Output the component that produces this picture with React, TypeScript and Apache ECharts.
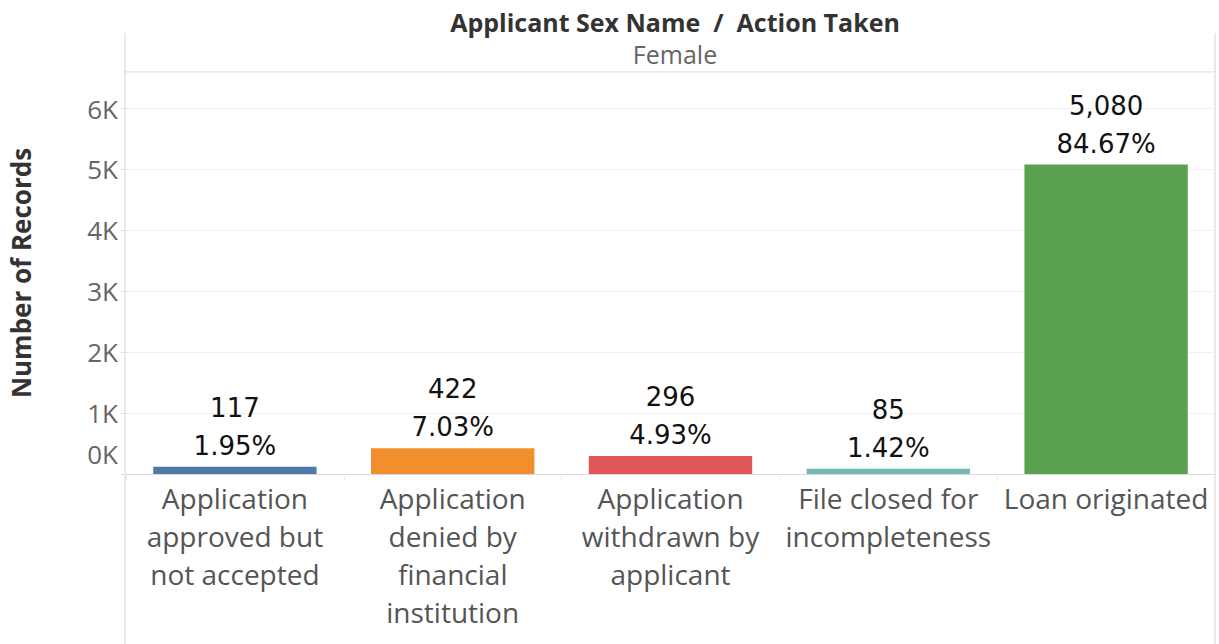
import React, { useEffect, useRef } from "react";
import * as echarts from "echarts";

const categories = [
  "Application\napproved but\nnot accepted",
  "Application\ndenied by\nfinancial\ninstitution",
  "Application\nwithdrawn by\napplicant",
  "File closed for\nincompleteness",
  "Loan originated",
];
const records = [117, 422, 296, 85, 5080];
const percents = ["1.95%", "7.03%", "4.93%", "1.42%", "84.67%"];
const colors = ["#4e79a7", "#f28e2b", "#e15759", "#76b7b2", "#59a14f"];

const GL = 125;
const GR = 1215;
const GT = 72;
const GB = 474;

export default function App() {
  const ref = useRef<HTMLDivElement>(null);
  useEffect(() => {
    if (!ref.current) return;
    const chart = echarts.init(ref.current, null, { renderer: "svg" });
    const font = "'Open Sans', 'Noto Sans', sans-serif";
    const numFont = "'DejaVu Sans', Verdana, sans-serif";
    chart.setOption({
      animation: false,
      backgroundColor: "#ffffff",
      title: {
        text: "Applicant Sex Name  /  Action Taken",
        subtext: "Female",
        left: (GL + GR) / 2,
        textAlign: "center",
        top: 4,
        itemGap: 7,
        textStyle: { fontFamily: font, fontWeight: "bold", fontSize: 25, color: "#333333" },
        subtextStyle: { fontFamily: font, fontSize: 25, color: "#666666" },
      },
      grid: { left: GL, right: 1219 - GR, top: GT, bottom: 644 - GB },
      xAxis: {
        type: "category",
        data: categories,
        axisLine: { show: true, lineStyle: { color: "#d9d9d9", width: 1 } },
        axisTick: { show: true, length: 6, lineStyle: { color: "#ececec" } },
        axisLabel: {
          interval: 0,
          margin: 5,
          fontFamily: font,
          fontSize: 28,
          lineHeight: 38,
          color: "#555555",
          verticalAlign: "top",
        },
      },
      yAxis: {
        type: "value",
        min: 0,
        max: 6600,
        interval: 1000,
        name: "Number of Records",
        nameLocation: "middle",
        nameGap: 92,
        nameTextStyle: { fontFamily: font, fontWeight: "bold", fontSize: 26, color: "#333333" },
        axisLine: { show: false },
        axisTick: { show: true, length: 5, lineStyle: { color: "#dddddd" } },
        splitLine: { show: true, lineStyle: { color: "#f0f0f0", width: 1 } },
        axisLabel: {
          margin: 8,
          fontFamily: font,
          fontSize: 26,
          color: "#666666",
          showMaxLabel: false,
          formatter: (v: number) => (v === 0 ? "{z|0K}" : v / 1000 + "K"),
          rich: {
            z: { fontFamily: font, fontSize: 26, color: "#666666", padding: [0, 0, 40, 0] },
          },
        },
      },
      series: [
        {
          type: "bar",
          data: records.map((v, i) => ({ value: v, itemStyle: { color: colors[i] } })),
          barCategoryGap: "25%",
          label: {
            show: true,
            position: "top",
            distance: 2,
            fontFamily: numFont,
            fontSize: 26,
            lineHeight: 38,
            color: "#111111",
            formatter: (p: any) => p.value.toLocaleString("en-US") + "\n" + percents[p.dataIndex],
          },
        },
      ],
      graphic: [
        { type: "line", shape: { x1: GL, y1: 33, x2: GL, y2: 644 }, style: { stroke: "#d4d4d4", lineWidth: 1 }, silent: true },
        { type: "line", shape: { x1: GR, y1: 33, x2: GR, y2: 644 }, style: { stroke: "#d4d4d4", lineWidth: 1 }, silent: true },
        { type: "line", shape: { x1: GL, y1: GT, x2: GR, y2: GT }, style: { stroke: "#d4d4d4", lineWidth: 1 }, silent: true },
      ],
    });
    return () => chart.dispose();
  }, []);
  return <div ref={ref} style={{ position: "fixed", left: 0, top: 0, width: 1219, height: 644 }} />;
}
